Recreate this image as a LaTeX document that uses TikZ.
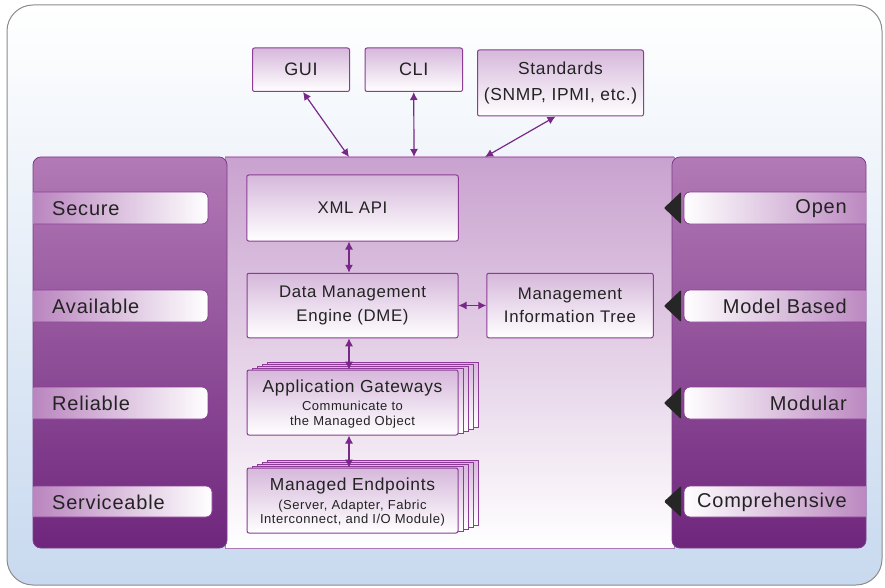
\documentclass[tikz,border=0pt]{standalone}
\usepackage{fontspec}
\setmainfont{Liberation Sans}[LetterSpace=4]
\usetikzlibrary{arrows.meta,calc}
\definecolor{panTop}{RGB}{178,122,182}
\definecolor{panBot}{RGB}{110,38,124}
\definecolor{midTop}{RGB}{201,162,207}
\definecolor{boxTop}{RGB}{214,184,219}
\definecolor{boxLine}{RGB}{140,60,150}
\definecolor{arrC}{RGB}{120,40,135}
\definecolor{txt}{RGB}{35,35,35}
\definecolor{bgBot}{RGB}{200,217,239}
\definecolor{lblPurple}{RGB}{180,124,186}
\begin{document}
\begin{tikzpicture}[x=1pt,y=-1pt,
  cbox/.style={draw=boxLine, line width=1pt, top color=boxTop, bottom color=white,
    rounded corners=2pt, inner sep=0pt, align=center, text=txt},
  ttl/.style={inner sep=0pt, align=center, text=txt, font=\fontsize{17.4}{20}\selectfont},
  sub/.style={inner sep=0pt, align=center, text=txt, font=\fontsize{13}{14.4}\selectfont},
  lbl/.style={inner sep=0pt, text=txt, font=\fontsize{20}{22}\selectfont},
  arr/.style={arrC, line width=1.2pt, {Latex[length=8pt,width=8pt]}-{Latex[length=8pt,width=8pt]}},
  lshade/.style={left color=lblPurple, right color=white, rounded corners=6pt},
  rshade/.style={left color=white, right color=lblPurple, rounded corners=6pt},
  lblline/.style={draw=boxLine, line width=0.8pt, rounded corners=6pt},
  tri/.style={fill=black!85, rounded corners=1pt}
]
\useasboundingbox (0,0) rectangle (885,588);
% background
\shade[top color=white, bottom color=bgBot, rounded corners=26pt] (7,5) rectangle (882,585);
\draw[black!45, line width=1pt, rounded corners=26pt] (7,5) rectangle (882,585);

% middle panel
\shade[top color=midTop, bottom color=white] (225,157) rectangle (674,548);
\draw[boxLine!70, line width=0.8pt] (225,157) rectangle (674,548);

% side panels
\shade[top color=panTop, bottom color=panBot, rounded corners=8pt] (33,157) rectangle (227,548);
\draw[panBot!90, line width=0.8pt, rounded corners=8pt] (33,157) rectangle (227,548);
\shade[top color=panTop, bottom color=panBot, rounded corners=8pt] (672,157) rectangle (866,548);
\draw[panBot!90, line width=0.8pt, rounded corners=8pt] (672,157) rectangle (866,548);

% left labels
\begin{scope}
  \clip (33.5,150) rectangle (240,555);
  \foreach \t/\b/\r in {192/224/208, 290/322/208, 387/419/208, 486/517/212} {
    \shade[lshade] (20,\t) rectangle (\r,\b);
    \draw[lblline] (20,\t) rectangle (\r,\b);
  }
\end{scope}
\node[lbl, anchor=west] (secure) at (52,208.5) {Secure};
\node[lbl, anchor=west] (available) at (52,306.5) {Available};
\node[lbl, anchor=west] (reliable) at (52,403.5) {Reliable};
\node[lbl, anchor=west] (serviceable) at (52,502) {Serviceable};

% right labels
\begin{scope}
  \clip (660,150) rectangle (865.5,555);
  \foreach \t/\b in {192/224, 290/322, 387/419, 486/517} {
    \shade[rshade] (684,\t) rectangle (885,\b);
    \draw[lblline] (684,\t) rectangle (885,\b);
    \fill[tri] (664,{(\t+\b)/2}) -- (681,\t) -- (681,\b) -- cycle;
  }
\end{scope}
\node[lbl, anchor=east] (open) at (847,208.5) {Open};
\node[lbl, anchor=east] (model) at (847,306.5) {Model Based};
\node[lbl, anchor=east] (modular) at (847,403.5) {Modular};
\node[lbl, anchor=east] (compr) at (847,502) {Comprehensive};

% top boxes
\node[cbox, minimum width=97pt, minimum height=43.5pt, font=\fontsize{18}{20}\selectfont] (gui) at (301,69.75) {GUI};
\node[cbox, minimum width=97.5pt, minimum height=43.5pt, font=\fontsize{18}{20}\selectfont] (cli) at (413.75,69.75) {CLI};
\node[cbox, minimum width=166pt, minimum height=66pt, font=\fontsize{17.4}{26}\selectfont] (std) at (560.5,83) {Standards\\(SNMP, IPMI, etc.)};

% panel top connection points
\coordinate (pg) at (349,157);
\coordinate (pc) at (414,157);
\coordinate (ps) at (485,157);
\draw[arr] ([xshift=2pt]gui.south) -- (pg);
\draw[arr] (cli.south) -- (pc);
\draw[arr] ([xshift=-5pt]std.south) -- (ps);

% centre boxes
\node[cbox, minimum width=211.5pt, minimum height=66pt, font=\fontsize{16.8}{23.3}\selectfont] (xml) at (352.5,208) {XML API};
\node[cbox, minimum width=211pt, minimum height=64.5pt, font=\fontsize{16.8}{23.3}\selectfont] (dme) at (352.5,305.5) {Data Management\\Engine (DME)};
\node[cbox, minimum width=166.5pt, minimum height=64.5pt, font=\fontsize{16.8}{23.3}\selectfont] (mit) at (570,305.5) {Management\\Information Tree};

% stacked copies
\foreach \i in {4,3,2,1} {
  \shade[top color=boxTop, bottom color=white] (247+5*\i,370-2*\i) rectangle (458+5*\i,435-2*\i);
  \draw[boxLine, line width=1pt] (247+5*\i,370-2*\i) rectangle (458+5*\i,435-2*\i);
  \shade[top color=boxTop, bottom color=white] (247+5*\i,468-2*\i) rectangle (458+5*\i,533-2*\i);
  \draw[boxLine, line width=1pt] (247+5*\i,468-2*\i) rectangle (458+5*\i,533-2*\i);
}
\node[cbox, minimum width=211pt, minimum height=65pt] (ag) at (352.5,402.5) {};
\node[ttl] (agt) at (352.5,388) {Application Gateways};
\node[sub] (ags) at (352.5,414.5) {Communicate to\\the Managed Object};
\node[cbox, minimum width=211pt, minimum height=65pt] (me) at (352.5,500.5) {};
\node[ttl] (met) at (352.5,486) {Managed Endpoints};
\node[sub] (mes) at (352.5,513) {(Server, Adapter, Fabric\\Interconnect, and I/O Module)};

% connectors
\draw[arr] ([xshift=-3.5pt]xml.south) -- ([xshift=-3.5pt]dme.north);
\draw[arr] (dme.east) -- (mit.west);
\draw[arr] ([xshift=-3.5pt]dme.south) -- ([xshift=-3.5pt]ag.north);
\draw[arr] ([xshift=-3.5pt]ag.south) -- ([xshift=-3.5pt]me.north);
\end{tikzpicture}
\end{document}
